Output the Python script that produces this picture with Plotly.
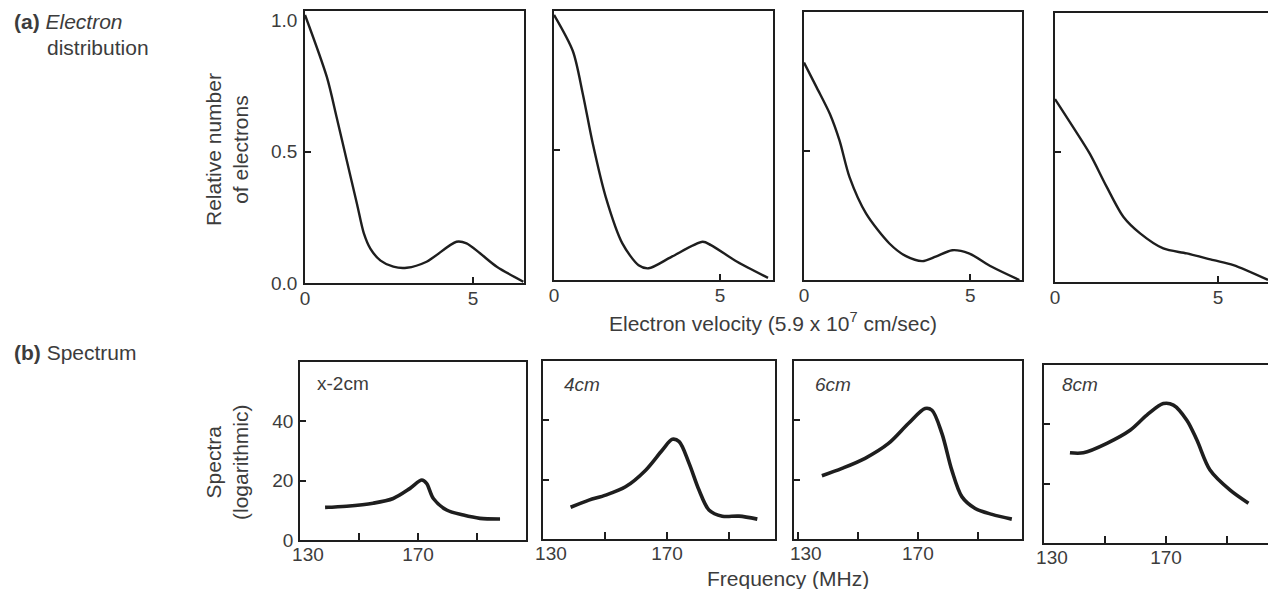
import plotly.graph_objects as go

W, H = 1268, 589

# ---------------- data: (a) electron distribution ----------------
vel_1 = [0.0, 0.65, 0.94, 1.24, 1.55, 1.75, 1.95, 2.25, 2.63, 3.03, 3.62, 4.51, 4.81, 5.21, 5.71, 6.5]
num_1 = [1.02, 0.784, 0.632, 0.468, 0.30, 0.19, 0.13, 0.085, 0.062, 0.058, 0.081, 0.157, 0.151, 0.113, 0.062, 0.005]

vel_2 = [0.0, 0.57, 0.87, 1.17, 1.56, 2.06, 2.55, 2.85, 3.54, 4.48, 4.73, 5.52, 6.45]
num_2 = [1.02, 0.88, 0.715, 0.524, 0.319, 0.141, 0.057, 0.045, 0.089, 0.147, 0.134, 0.070, 0.008]

vel_3 = [0.0, 0.38, 0.78, 1.07, 1.37, 1.87, 2.57, 3.07, 3.56, 3.96, 4.46, 4.96, 5.65, 6.48]
num_3 = [0.84, 0.744, 0.641, 0.538, 0.397, 0.256, 0.141, 0.092, 0.073, 0.090, 0.115, 0.103, 0.051, 0.0]

vel_4 = [0.0, 0.56, 1.07, 1.59, 2.10, 2.61, 3.32, 4.04, 4.86, 5.47, 6.53]
num_4 = [0.704, 0.595, 0.493, 0.365, 0.25, 0.187, 0.129, 0.11, 0.084, 0.065, 0.008]

# ---------------- data: (b) spectrum ----------------
freq_1 = [138.5, 145.8, 154.8, 161.6, 167.3, 171.3, 172.9, 175.2, 179.7, 185.4, 191.0, 197.8]
spec_1 = [11.0, 11.4, 12.4, 14.0, 17.4, 20.2, 19.1, 14.0, 10.1, 8.4, 7.3, 7.1]

freq_2 = [138.9, 144.8, 150.2, 156.6, 163.1, 168.5, 171.7, 173.9, 177.1, 180.3, 183.5, 187.8, 193.2, 199.1]
spec_2 = [10.7, 13.1, 14.8, 17.6, 23.2, 30.0, 33.6, 32.8, 25.5, 16.5, 9.8, 7.7, 7.7, 6.7]

freq_3 = [138.0, 144.7, 152.4, 160.2, 166.9, 172.4, 174.7, 178.0, 181.3, 184.7, 189.1, 194.7, 201.3]
spec_3 = [21.3, 23.8, 27.2, 32.2, 39.0, 44.0, 43.4, 35.6, 23.2, 14.2, 10.3, 8.3, 6.7]

freq_4 = [138.5, 142.9, 150.6, 158.2, 163.7, 169.1, 172.4, 176.8, 180.1, 184.4, 191.0, 197.0]
spec_4 = [30.4, 30.4, 33.6, 38.0, 43.1, 47.0, 46.5, 41.4, 34.7, 24.6, 17.8, 13.4]

panel_labels = ["x-2cm", "<i>4cm</i>", "<i>6cm</i>", "<i>8cm</i>"]

vel_ticks = [0, 5]
num_ticks = [0.0, 0.5, 1.0]
num_ticktext = ["0.0", "0.5", "1.0"]
num_minor = [0.5]
freq_ticks = [130, 170]
freq_ticktext = ["\u00a0\u00a0\u00a0130", "170"]
freq_minor = [150, 190]
spec_ticks = [0, 20, 40]

FONT = "Liberation Sans"
TXT = "#3c3c3c"
INK = "#1e1e1e"

# pixel geometry of the panels (left, right, top, bottom)
top_boxes = [(305, 524, 11, 283), (554, 773, 11, 280), (804, 1022, 12, 280), (1055, 1268, 13, 282)]
top_xrange = [[0, 6.52], [0, 6.6], [0, 6.56], [0, 6.53]]
bot_boxes = [(300, 526, 362, 540), (543, 775, 361, 539), (794, 1022, 361, 539), (1044, 1268, 365, 543)]
bot_xrange = [[130, 206.6], [130, 204.8], [128.7, 204.7], [130, 203.4]]

top_data = [(vel_1, num_1), (vel_2, num_2), (vel_3, num_3), (vel_4, num_4)]
bot_data = [(freq_1, spec_1), (freq_2, spec_2), (freq_3, spec_3), (freq_4, spec_4)]

fig = go.Figure()
layout = {}

def dom_x(l, r):
    return [l / W, min(r / W, 1.0)]

def dom_y(t, b):
    return [1 - b / H, 1 - t / H]

axis_common = dict(showline=True, mirror=True, linecolor=INK, linewidth=1.8,
                   ticks="inside", ticklen=6, tickwidth=1.8, tickcolor=INK,
                   showgrid=False, zeroline=False, fixedrange=True, automargin=False,
                   tickfont=dict(family=FONT, size=19, color=TXT))

for i in range(4):
    n = i + 1
    xa = f"xaxis{n}" if n > 1 else "xaxis"
    ya = f"yaxis{n}" if n > 1 else "yaxis"
    l, r, t, b = top_boxes[i]
    layout[xa] = dict(axis_common, domain=dom_x(l, r), range=top_xrange[i],
                      anchor=f"y{n}" if n > 1 else "y", tickvals=vel_ticks,
                      ticktext=[str(v) for v in vel_ticks], ticklabelstandoff=-3)
    layout[ya] = dict(axis_common, domain=dom_y(t, b), range=[0, 1.035],
                      anchor=f"x{n}" if n > 1 else "x", tickvals=num_ticks,
                      ticktext=num_ticktext, showticklabels=(i == 0), ticks="",
                      ticklabelstandoff=2,
                      minor=dict(tickvals=num_minor, ticks="inside", ticklen=6,
                                 tickwidth=1.8, tickcolor=INK, showgrid=False))
    fig.add_trace(go.Scatter(x=top_data[i][0], y=top_data[i][1], mode="lines",
                             line=dict(color=INK, width=2.4, shape="spline", smoothing=0.8),
                             xaxis=f"x{n}" if n > 1 else "x", yaxis=f"y{n}" if n > 1 else "y",
                             showlegend=False, hoverinfo="skip"))

for i in range(4):
    n = i + 5
    l, r, t, b = bot_boxes[i]
    layout[f"xaxis{n}"] = dict(axis_common, domain=dom_x(l, r), range=bot_xrange[i],
                               anchor=f"y{n}", tickvals=freq_ticks, ticktext=freq_ticktext,
                               ticklen=7, ticklabelstandoff=-4,
                               minor=dict(tickvals=freq_minor, ticks="inside", ticklen=7,
                                          tickwidth=1.8, tickcolor=INK, showgrid=False))
    layout[f"yaxis{n}"] = dict(axis_common, domain=dom_y(t, b), range=[0, 60],
                               anchor=f"x{n}", tickvals=spec_ticks,
                               ticktext=[str(v) for v in spec_ticks], showticklabels=(i == 0),
                               ticklabelstandoff=1)
    fig.add_trace(go.Scatter(x=bot_data[i][0], y=bot_data[i][1], mode="lines",
                             line=dict(color=INK, width=3.6, shape="spline", smoothing=0.9),
                             xaxis=f"x{n}", yaxis=f"y{n}",
                             showlegend=False, hoverinfo="skip"))

def ann(text, px, py, size=21, xanchor="left", yanchor="middle", angle=0, align="left"):
    return dict(text=text, x=px / W, y=1 - py / H, xref="paper", yref="paper",
                xanchor=xanchor, yanchor=yanchor, showarrow=False, textangle=angle,
                align=align, font=dict(family=FONT, size=size, color=TXT))

annotations = [
    ann("<b>(a)</b> <i>Electron</i>", 12, 21),
    ann("distribution", 45, 48),
    ann("<b>(b)</b> Spectrum", 12, 352),
    ann("Relative number<br>of electrons", 227, 150, size=21, xanchor="center", angle=-90, align="center"),
    ann("Spectra<br>(logarithmic)", 227, 462, size=21, xanchor="center", angle=-90, align="center"),
    ann("Electron velocity (5.9 x 10<sup>7</sup> cm/sec)", 773, 322, size=21, xanchor="center"),
    ann("Frequency (MHz)", 788, 578, size=21, xanchor="center"),
]
label_pos = [(315, 383), (562, 385), (813, 385), (1060, 385)]
for lab, (px, py) in zip(panel_labels, label_pos):
    annotations.append(ann(lab, px, py, size=19))

fig.update_layout(width=W, height=H, margin=dict(l=0, r=0, t=0, b=0, autoexpand=False),
                  paper_bgcolor="white", plot_bgcolor="white",
                  annotations=annotations, **layout)

fig.write_html("out.html", config={"displayModeBar": False})
